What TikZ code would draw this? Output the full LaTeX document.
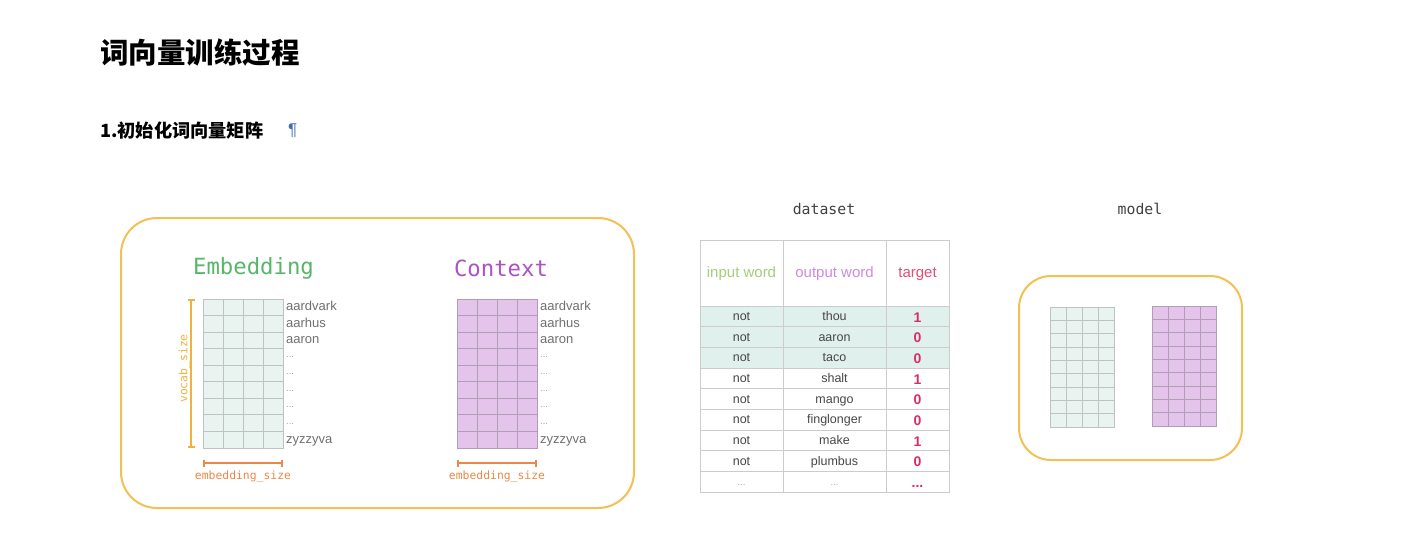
\documentclass[tikz,border=0pt]{standalone}
\usepackage{fontspec}
\usepackage{xcolor}
\setmainfont{Liberation Sans}
\setmonofont{DejaVu Sans Mono}
\newfontfamily\cjkfont{Noto Sans CJK SC}
\usetikzlibrary{arrows.meta, positioning, calc}
\definecolor{panelOrange}{RGB}{243,192,86}
\definecolor{vocabOrange}{RGB}{240,178,62}
\definecolor{sizeOrange}{RGB}{234,136,72}
\definecolor{embText}{RGB}{88,182,104}
\definecolor{ctxText}{RGB}{172,82,196}
\definecolor{embFill}{RGB}{233,243,239}
\definecolor{embLine}{RGB}{188,196,192}
\definecolor{ctxFill}{RGB}{229,196,236}
\definecolor{ctxLine}{RGB}{176,158,182}
\definecolor{wordGray}{RGB}{112,112,112}
\definecolor{dotGray}{RGB}{165,165,165}
\definecolor{headGreen}{RGB}{165,205,122}
\definecolor{headPurple}{RGB}{205,138,225}
\definecolor{headPink}{RGB}{226,78,116}
\definecolor{targetPink}{RGB}{216,46,102}
\definecolor{rowTeal}{RGB}{224,240,236}
\definecolor{tableLine}{RGB}{204,204,204}
\definecolor{pilcrowBlue}{RGB}{62,110,178}
\newcommand{\rowdots}{\raisebox{2.5pt}{\textcolor{dotGray}{\fontsize{9.5}{9.5}\selectfont...}}}

\begin{document}
\begin{tikzpicture}[x=1pt, y=-1pt,
    panel/.style={rectangle, draw=panelOrange, line width=2pt, rounded corners=36pt, inner sep=0pt, anchor=north west},
    wordmatrix/.style={rectangle, draw=#1Line, fill=#1Fill, line width=0.8pt, inner sep=0pt, outer sep=0pt, anchor=north west},
    mattitle/.style={font=\ttfamily\fontsize{22.3}{24}\selectfont},
    wordlabel/.style={anchor=west, inner sep=0pt, xshift=3pt, text height=9.5pt, text depth=2.5pt, text=wordGray, font=\fontsize{13}{14}\selectfont},
    sizebar/.style={draw=#1, line width=1.8pt, {Bar[width=7pt]}-{Bar[width=7pt]}},
    sizelabel/.style={font=\ttfamily\fontsize{11.4}{12}\selectfont, inner sep=0pt},
    tableline/.style={draw=tableLine, line width=0.9pt},
    head/.style={font=\fontsize{15}{16}\selectfont},
    cell/.style={text=black!72, text height=9pt, text depth=2.5pt, font=\fontsize{12.5}{13}\selectfont},
    target/.style={text=targetPink, text height=10pt, text depth=0pt, font=\bfseries\fontsize{14}{15}\selectfont},
    caption/.style={text=black!75, font=\ttfamily\fontsize{14.8}{16}\selectfont}
]
    \useasboundingbox[fill=white] (0,0) rectangle (1420,533);

    % Headings
    \node[anchor=west, inner sep=0pt, font=\cjkfont\bfseries\fontsize{28.5}{30}\selectfont] (title) at (100,53) {词向量训练过程};
    \node[anchor=west, inner sep=0pt, font=\cjkfont\bfseries\fontsize{18.2}{19}\selectfont] (step1) at (100,131) {1.初始化词向量矩阵};
    \node[anchor=west, inner sep=0pt, text=pilcrowBlue, font=\fontsize{17}{18}\selectfont] (pilcrow) at (288,131) {¶};

    % Embedding / Context panel
    \node[panel, minimum width=513pt, minimum height=290pt] (embpanel) at (120,217) {};
    \node[mattitle, text=embText] (embtitle) at (253.5,268) {Embedding};
    \node[mattitle, text=ctxText] (ctxtitle) at (501,268) {Context};
    \node[wordmatrix=emb, minimum width=80pt, minimum height=149pt] (emb) at (203,299) {};
    \node[wordmatrix=ctx, minimum width=80pt, minimum height=149pt] (ctx) at (457,299) {};

    % Model panel
    \node[caption] (dslabel) at (824,209) {dataset};
    \node[caption] (mdlabel) at (1140,209) {model};
    \node[panel, minimum width=223pt, minimum height=184pt, rounded corners=32pt] (modelpanel) at (1018,275) {};
    \node[wordmatrix=emb, minimum width=64pt, minimum height=120pt] (memb) at (1050,307) {};
    \node[wordmatrix=ctx, minimum width=64pt, minimum height=120pt] (mctx) at (1152,306) {};

    % cell lines of the four matrices
    \foreach \m/\tone in {emb/emb, ctx/ctx, memb/emb, mctx/ctx} {
        \foreach \i in {1,2,3}
            \draw[draw=\tone Line, line width=0.8pt] ($(\m.north west)!\i/4!(\m.north east)$) -- ($(\m.south west)!\i/4!(\m.south east)$);
        \foreach \j in {1,...,8}
            \draw[draw=\tone Line, line width=0.8pt] ($(\m.north west)!\j/9!(\m.south west)$) -- ($(\m.north east)!\j/9!(\m.south east)$);
    }

    % vocabulary words
    \foreach \m in {emb, ctx}
        \foreach \w [count=\k] in {aardvark, aarhus, aaron, \rowdots, \rowdots, \rowdots, \rowdots, \rowdots, zyzzyva}
            \node[wordlabel] (\m word\k) at ($(\m.north east)+(0,{16.556*(\k-0.5)})$) {\w};

    % size bars
    \draw[sizebar=vocabOrange] ($(emb.north west)+(-12,0)$) -- ($(emb.south west)+(-12,0)$)
        node[midway, sizelabel, rotate=90, above=5pt, text=vocabOrange] (vocablabel) {vocab\_size};
    \draw[sizebar=sizeOrange] ($(emb.south west)+(0,15)$) -- ($(emb.south east)+(0,15)$)
        node[midway, sizelabel, below=7pt, text=sizeOrange] (embsize) {embedding\_size};
    \draw[sizebar=sizeOrange] ($(ctx.south west)+(0,15)$) -- ($(ctx.south east)+(0,15)$)
        node[midway, sizelabel, below=7pt, text=sizeOrange] (ctxsize) {embedding\_size};

    % Dataset table
    \fill[rowTeal] (700,306) rectangle (949,368);
    \draw[tableline] (700,240) rectangle (949,492);
    \foreach \x in {783,886}
        \draw[tableline] (\x,240) -- (\x,492);
    \foreach \k in {0,...,8}
        \draw[tableline] (700,{306+20.67*\k}) -- (949,{306+20.67*\k});
    \node[head, text=headGreen] (hin) at (741.5,274) {input word};
    \node[head, text=headPurple] (hout) at (834.5,274) {output word};
    \node[head, text=headPink] (htarget) at (917.5,274) {target};
    \foreach \o/\t [count=\k] in {thou/1, aaron/0, taco/0, shalt/1, mango/0, finglonger/0, make/1, plumbus/0} {
        \node[cell] (in\k) at (741.5,{296.5+20.67*\k}) {not};
        \node[cell] (out\k) at (834.5,{296.5+20.67*\k}) {\o};
        \node[target] (t\k) at (917.5,{296.5+20.67*\k}) {\t};
    }
    \node[cell] (in9) at (741.5,485) {\rowdots};
    \node[cell] (out9) at (834.5,485) {\rowdots};
    \node[target] (t9) at (917.5,482) {...};
\end{tikzpicture}
\end{document}
